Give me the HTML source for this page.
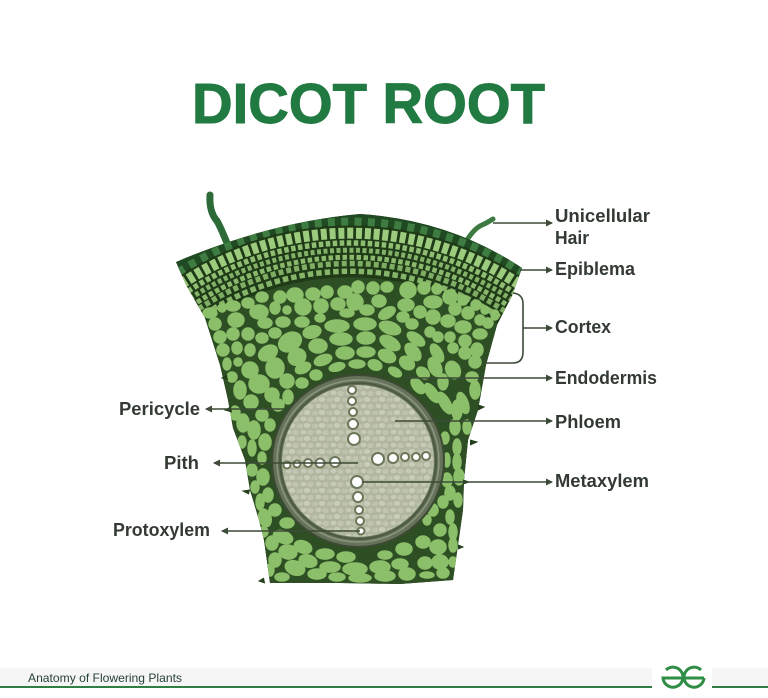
<!DOCTYPE html>
<html><head><meta charset="utf-8"><title>Dicot Root</title>
<style>html,body{margin:0;padding:0;background:#fff;width:768px;height:698px;overflow:hidden}svg{display:block}text{font-family:"Liberation Sans",sans-serif}</style></head>
<body>
<svg width="768" height="698" viewBox="0 0 768 698" xmlns="http://www.w3.org/2000/svg" style="overflow:hidden">
<defs>
<clipPath id="o"><path id="op" d="M176 262 Q270 222 360 214 Q450 220 522 268 L512 296 L497 325 L486 365 L478 410 L468 440 L464 480 L463 510 L458 545 L453 580 L400 584 L340 583 L270 583 L264 540 L259 520 L250 490 L245 460 L233 428 L228 400 L220 365 L205 318 L186 285 Z"/></clipPath>
<pattern id="pt" width="15" height="13" patternUnits="userSpaceOnUse">
<rect width="15" height="13" fill="#b0b69f"/>
<ellipse cx="3.500" cy="3" rx="3" ry="2.300" fill="#c6cab7"/><ellipse cx="10.500" cy="3.500" rx="3.200" ry="2.600" fill="#c0c4b0"/><ellipse cx="7" cy="9.500" rx="3.300" ry="2.500" fill="#c8ccba"/><ellipse cx="13.500" cy="10" rx="2" ry="2.300" fill="#bcc1ac"/><ellipse cx="1" cy="10" rx="1.800" ry="2.200" fill="#c0c4b0"/>
</pattern>
<marker id="a" markerWidth="8" markerHeight="8" refX="6" refY="3.500" orient="auto" markerUnits="userSpaceOnUse"><path d="M0 0L7 3.500L0 7Z" fill="#3c4a38"/></marker>
</defs>
<rect width="768" height="698" fill="#fff"/>
<text x="192" y="123" font-size="57" font-weight="700" fill="#217a41" stroke="#217a41" stroke-width="1" textLength="353" lengthAdjust="spacingAndGlyphs">DICOT ROOT</text>

<path d="M227 243 Q220 226 217 221 Q209 212 210 195" fill="none" stroke="#2c6a38" stroke-width="7" stroke-linecap="round"/>
<path d="M465 243 Q473 230 480 226 Q487 223 493 219" fill="none" stroke="#3c7a42" stroke-width="5" stroke-linecap="round"/>

<use href="#op" fill="#1f3a17"/>
<g clip-path="url(#o)" fill="none">
<path d="M150 370A262 262 0 0 1 550 370V600H150Z" fill="#2e4f24"/>
<path d="M144 294A320 320 0 0 1 556 294" stroke="#1f4a22" stroke-width="12"/>
<path d="M146 296A317 317 0 0 1 554 296" stroke="#3f7c42" stroke-width="8" stroke-dasharray="7 6.300"/>
<path d="M153 305A306 306 0 0 1 547 305" stroke="#9ccb7e" stroke-width="11" stroke-dasharray="6 2.800"/>
<path d="M160 312A296 296 0 0 1 540 312" stroke="#8fbe72" stroke-width="5.500" stroke-dasharray="4.500 2.500"/>
<path d="M164 318A289 289 0 0 1 536 318" stroke="#83b168" stroke-width="5" stroke-dasharray="4 2.500"/>
<path d="M169 323A282 282 0 0 1 531 323" stroke="#8ab86d" stroke-width="5" stroke-dasharray="4.500 2.500"/>
<path d="M173 328A275 275 0 0 1 527 328" stroke="#80ad64" stroke-width="5.500" stroke-dasharray="5 3"/>
<path d="M178 334A267 267 0 0 1 522 334" stroke="#86b56a" stroke-width="5.500" stroke-dasharray="5.500 3"/>
</g>
<g clip-path="url(#o)" fill="#8cbf6a" stroke="#8cbf6a" stroke-width="1.500">
<ellipse cx="295" cy="295" rx="8" ry="7"/><ellipse cx="313" cy="294" rx="7" ry="6"/><ellipse cx="327" cy="292" rx="6" ry="6"/><ellipse cx="345" cy="292" rx="7" ry="6"/><ellipse cx="358" cy="287" rx="6" ry="6"/><ellipse cx="373" cy="288" rx="6" ry="6"/><ellipse cx="387" cy="287" rx="6" ry="5"/><ellipse cx="408" cy="290" rx="8" ry="8"/><ellipse cx="424" cy="288" rx="6" ry="6"/><ellipse cx="437" cy="289" rx="5" ry="5"/><ellipse cx="450" cy="297" rx="7" ry="7"/><ellipse cx="280" cy="297" rx="6" ry="6"/><ellipse cx="262" cy="297" rx="6" ry="5"/><ellipse cx="248" cy="303" rx="6" ry="5"/><ellipse cx="233" cy="306" rx="7" ry="5"/><ellipse cx="210" cy="313" rx="7" ry="5"/><ellipse cx="222" cy="308" rx="4" ry="4"/>
<ellipse cx="259" cy="312" rx="9" ry="7"/><ellipse cx="303" cy="307" rx="8" ry="8"/><ellipse cx="275" cy="308" rx="5" ry="6"/><ellipse cx="287" cy="310" rx="4" ry="4"/><ellipse cx="321" cy="306" rx="7" ry="7"/><ellipse cx="338" cy="304" rx="7" ry="6"/><ellipse cx="355" cy="302" rx="8" ry="8"/><ellipse cx="379" cy="301" rx="7" ry="6"/><ellipse cx="406" cy="305" rx="8" ry="6"/><ellipse cx="433" cy="302" rx="9" ry="6"/><ellipse cx="463" cy="300" rx="5" ry="5"/><ellipse cx="455" cy="309" rx="6" ry="6"/><ellipse cx="476" cy="305" rx="5" ry="5"/><ellipse cx="485" cy="310" rx="4" ry="4"/><ellipse cx="495" cy="315" rx="4" ry="5"/><ellipse cx="420" cy="312" rx="6" ry="6"/><ellipse cx="433" cy="317" rx="7" ry="7"/><ellipse cx="468" cy="313" rx="6" ry="6"/><ellipse cx="448" cy="321" rx="7" ry="6"/><ellipse cx="480" cy="320" rx="5" ry="5"/>
<ellipse cx="236" cy="320" rx="8" ry="7"/><ellipse cx="215" cy="324" rx="6" ry="6"/><ellipse cx="265" cy="323" rx="7" ry="5"/><ellipse cx="283" cy="322" rx="7" ry="5"/><ellipse cx="302" cy="322" rx="7" ry="5"/><ellipse cx="320" cy="318" rx="5" ry="4"/><ellipse cx="347" cy="313" rx="7" ry="4"/><ellipse cx="367" cy="310" rx="7" ry="5"/><ellipse cx="387" cy="313" rx="9" ry="5" transform="rotate(-30 387 313)"/><ellipse cx="337" cy="326" rx="12" ry="6"/><ellipse cx="365" cy="324" rx="11" ry="6"/><ellipse cx="390" cy="328" rx="11" ry="6" transform="rotate(20 390 328)"/><ellipse cx="403" cy="317" rx="6" ry="5"/>
<ellipse cx="220" cy="337" rx="6" ry="6"/><ellipse cx="233" cy="334" rx="6" ry="6"/><ellipse cx="248" cy="334" rx="6" ry="6"/><ellipse cx="275" cy="333" rx="6" ry="5"/><ellipse cx="290" cy="342" rx="12" ry="9" transform="rotate(-30 290 342)"/><ellipse cx="312" cy="332" rx="9" ry="6" transform="rotate(-15 312 332)"/><ellipse cx="318" cy="346" rx="9" ry="7"/><ellipse cx="341" cy="339" rx="11" ry="6"/><ellipse cx="366" cy="338" rx="9" ry="6"/><ellipse cx="390" cy="343" rx="11" ry="6" transform="rotate(30 390 343)"/><ellipse cx="345" cy="353" rx="9" ry="6"/><ellipse cx="366" cy="352" rx="9" ry="5"/><ellipse cx="387" cy="356" rx="9" ry="6" transform="rotate(25 387 356)"/><ellipse cx="323" cy="360" rx="9" ry="5" transform="rotate(-20 323 360)"/><ellipse cx="297" cy="357" rx="9" ry="8" transform="rotate(-30 297 357)"/><ellipse cx="268" cy="353" rx="10" ry="7" transform="rotate(-30 268 353)"/><ellipse cx="250" cy="350" rx="5" ry="6"/><ellipse cx="237" cy="348" rx="5" ry="6"/><ellipse cx="223" cy="350" rx="6" ry="6"/><ellipse cx="262" cy="338" rx="6" ry="5"/>
<ellipse cx="227" cy="364" rx="4" ry="6"/><ellipse cx="238" cy="362" rx="4" ry="4"/><ellipse cx="250" cy="370" rx="8" ry="8" transform="rotate(-20 250 370)"/><ellipse cx="275" cy="368" rx="9" ry="10"/><ellipse cx="303" cy="368" rx="8" ry="5" transform="rotate(-25 303 368)"/><ellipse cx="232" cy="377" rx="5" ry="5"/><ellipse cx="316" cy="375" rx="6" ry="5"/><ellipse cx="287" cy="381" rx="7" ry="7"/><ellipse cx="259" cy="384" rx="10" ry="9"/><ellipse cx="240" cy="390" rx="6" ry="9"/><ellipse cx="302" cy="383" rx="6" ry="5"/><ellipse cx="337" cy="367" rx="8" ry="4" transform="rotate(-15 337 367)"/><ellipse cx="357" cy="364" rx="8" ry="4"/><ellipse cx="375" cy="365" rx="7" ry="5" transform="rotate(20 375 365)"/><ellipse cx="395" cy="372" rx="7" ry="4" transform="rotate(30 395 372)"/><ellipse cx="407" cy="363" rx="8" ry="6" transform="rotate(35 407 363)"/><ellipse cx="423" cy="373" rx="7" ry="5" transform="rotate(40 423 373)"/><ellipse cx="435" cy="367" rx="6" ry="10" transform="rotate(-25 435 367)"/><ellipse cx="453" cy="370" rx="7" ry="9" transform="rotate(-25 453 370)"/><ellipse cx="472" cy="377" rx="6" ry="5"/><ellipse cx="475" cy="362" rx="6" ry="6"/><ellipse cx="465" cy="353" rx="6" ry="6"/><ellipse cx="453" cy="348" rx="5" ry="5"/><ellipse cx="437" cy="353" rx="5" ry="10" transform="rotate(-30 437 353)"/><ellipse cx="413" cy="352" rx="6" ry="10" transform="rotate(-40 413 352)"/><ellipse cx="416" cy="339" rx="10" ry="5" transform="rotate(35 416 339)"/><ellipse cx="438" cy="337" rx="5" ry="5"/><ellipse cx="465" cy="341" rx="6" ry="6"/><ellipse cx="480" cy="334" rx="7" ry="5"/><ellipse cx="488" cy="323" rx="5" ry="5"/><ellipse cx="463" cy="327" rx="8" ry="6"/><ellipse cx="430" cy="332" rx="5" ry="5"/><ellipse cx="450" cy="337" rx="5" ry="5"/><ellipse cx="477" cy="350" rx="6" ry="7"/><ellipse cx="412" cy="324" rx="6" ry="5"/>
<ellipse cx="463" cy="403" rx="5" ry="11" transform="rotate(-20 463 403)"/><ellipse cx="457" cy="410" rx="5" ry="10"/><ellipse cx="445" cy="403" rx="5" ry="12" transform="rotate(-30 445 403)"/><ellipse cx="432" cy="393" rx="5" ry="11" transform="rotate(-35 432 393)"/><ellipse cx="418" cy="386" rx="5" ry="9" transform="rotate(-40 418 386)"/><ellipse cx="443" cy="382" rx="5" ry="8"/><ellipse cx="475" cy="390" rx="5" ry="9"/><ellipse cx="467" cy="427" rx="4" ry="7"/><ellipse cx="455" cy="427" rx="5" ry="8"/><ellipse cx="445" cy="438" rx="4" ry="6"/><ellipse cx="457" cy="447" rx="4" ry="8"/><ellipse cx="447" cy="460" rx="3" ry="7"/><ellipse cx="457" cy="462" rx="4" ry="8"/><ellipse cx="447" cy="480" rx="5" ry="7"/><ellipse cx="459" cy="477" rx="5" ry="8"/><ellipse cx="450" cy="493" rx="5" ry="7"/><ellipse cx="458" cy="500" rx="4" ry="7"/><ellipse cx="443" cy="502" rx="5" ry="6"/><ellipse cx="433" cy="510" rx="5" ry="6"/><ellipse cx="450" cy="517" rx="4" ry="7"/><ellipse cx="440" cy="530" rx="6" ry="6"/><ellipse cx="453" cy="532" rx="4" ry="8"/><ellipse cx="427" cy="520" rx="4" ry="5"/><ellipse cx="423" cy="542" rx="7" ry="6"/><ellipse cx="438" cy="547" rx="8" ry="7"/><ellipse cx="453" cy="545" rx="4" ry="7"/><ellipse cx="440" cy="562" rx="8" ry="7"/><ellipse cx="453" cy="562" rx="4" ry="5"/><ellipse cx="404" cy="549" rx="8" ry="6"/><ellipse cx="385" cy="555" rx="7" ry="4"/><ellipse cx="400" cy="564" rx="8" ry="5"/><ellipse cx="425" cy="563" rx="7" ry="6"/><ellipse cx="380" cy="567" rx="10" ry="6"/><ellipse cx="355" cy="569" rx="12" ry="6"/><ellipse cx="330" cy="567" rx="10" ry="5"/><ellipse cx="346" cy="557" rx="9" ry="5"/><ellipse cx="325" cy="554" rx="9" ry="5"/><ellipse cx="303" cy="547" rx="9" ry="6" transform="rotate(20 303 547)"/><ellipse cx="288" cy="552" rx="9" ry="7" transform="rotate(10 288 552)"/><ellipse cx="308" cy="561" rx="9" ry="6" transform="rotate(15 308 561)"/><ellipse cx="295" cy="568" rx="10" ry="7" transform="rotate(20 295 568)"/><ellipse cx="275" cy="560" rx="6" ry="7"/><ellipse cx="272" cy="543" rx="6" ry="7"/><ellipse cx="265" cy="518" rx="6" ry="9" transform="rotate(-15 265 518)"/><ellipse cx="263" cy="532" rx="5" ry="5"/><ellipse cx="283" cy="537" rx="10" ry="6" transform="rotate(20 283 537)"/><ellipse cx="287" cy="523" rx="7" ry="5"/><ellipse cx="275" cy="510" rx="6" ry="6"/><ellipse cx="260" cy="502" rx="4" ry="8"/><ellipse cx="268" cy="495" rx="5" ry="7"/><ellipse cx="255" cy="487" rx="4" ry="6"/><ellipse cx="263" cy="477" rx="6" ry="8"/><ellipse cx="252" cy="470" rx="5" ry="6"/><ellipse cx="262" cy="458" rx="4" ry="6"/><ellipse cx="252" cy="448" rx="4" ry="8"/><ellipse cx="265" cy="442" rx="6" ry="8"/><ellipse cx="242" cy="442" rx="4" ry="6"/><ellipse cx="254" cy="430" rx="6" ry="9"/><ellipse cx="270" cy="425" rx="5" ry="6"/><ellipse cx="243" cy="423" rx="6" ry="9"/><ellipse cx="235" cy="413" rx="5" ry="7"/><ellipse cx="251" cy="402" rx="7" ry="7"/><ellipse cx="272" cy="395" rx="7" ry="7"/><ellipse cx="278" cy="405" rx="6" ry="6"/><ellipse cx="262" cy="415" rx="6" ry="6"/><ellipse cx="288" cy="397" rx="5" ry="7"/>
<ellipse cx="282" cy="577" rx="7" ry="4"/><ellipse cx="317" cy="574" rx="9" ry="5"/><ellipse cx="337" cy="577" rx="8" ry="4"/><ellipse cx="360" cy="578" rx="11" ry="4"/><ellipse cx="385" cy="576" rx="10" ry="5"/><ellipse cx="407" cy="574" rx="8" ry="6"/><ellipse cx="427" cy="575" rx="7" ry="3"/><ellipse cx="443" cy="573" rx="6" ry="5"/><ellipse cx="270" cy="570" rx="4" ry="6"/>
</g>
<path d="M232 412l-7 -2l6 -3M250 490l-7 1l6 3M478 410l6 -3l-6 -2M470 440l7 2l-7 3M463 480l6 2l-6 2M458 545l5 2l-5 2M264 578l-5 3l6 2M228 380l-6 -2l5 -3" fill="#23401a" stroke="#23401a"/>

<circle cx="358" cy="461" r="86" fill="#66725a" stroke="#3d4a33" stroke-width="2"/>
<circle cx="358" cy="461" r="81" fill="none" stroke="#8b9580" stroke-width="1.500"/>
<circle cx="358" cy="461" r="78" fill="none" stroke="#4d5a42" stroke-width="2"/>
<circle cx="358" cy="461" r="76" fill="url(#pt)"/>
<g fill="#fff" stroke="#6b7658" stroke-width="2">
<circle cx="352" cy="390" r="4"/><circle cx="352" cy="401" r="4"/><circle cx="353" cy="412" r="4"/><circle cx="353" cy="424" r="5"/><circle cx="354" cy="439" r="6"/>
<circle cx="378" cy="459" r="6"/><circle cx="393" cy="458" r="5"/><circle cx="405" cy="457" r="4"/><circle cx="416" cy="457" r="4"/><circle cx="426" cy="456" r="4"/>
<circle cx="335" cy="462" r="5"/><circle cx="320" cy="463" r="4.500"/><circle cx="308" cy="463" r="4"/><circle cx="297" cy="464" r="3.500"/><circle cx="287" cy="465" r="3.500"/>
<circle cx="357" cy="482" r="6"/><circle cx="358" cy="497" r="5"/><circle cx="359" cy="510" r="4"/><circle cx="360" cy="521" r="4"/><circle cx="361" cy="531" r="3.500"/>
</g>

<g fill="none" stroke="#3c4a38" stroke-width="1.600">
<path d="M493 223H552" marker-end="url(#a)"/>
<path d="M520 270H552" marker-end="url(#a)"/>
<path d="M513 293Q523 294 523 304V352Q523 363 513 363H483"/>
<path d="M523 328H552" marker-end="url(#a)"/>
<path d="M403 378H552" marker-end="url(#a)"/>
<path d="M395 421H552" marker-end="url(#a)"/>
<path d="M362 482H552" marker-end="url(#a)"/>
<path d="M285 409H206" marker-end="url(#a)"/>
<path d="M358 463H214" marker-end="url(#a)"/>
<path d="M360 531H222" marker-end="url(#a)"/>
</g>
<g font-size="18" font-weight="700" fill="#333a33">
<text x="555" y="222" textLength="95" lengthAdjust="spacingAndGlyphs">Unicellular</text>
<text x="555" y="244" textLength="34" lengthAdjust="spacingAndGlyphs">Hair</text>
<text x="555" y="275" textLength="80" lengthAdjust="spacingAndGlyphs">Epiblema</text>
<text x="555" y="333" textLength="56" lengthAdjust="spacingAndGlyphs">Cortex</text>
<text x="555" y="384" textLength="102" lengthAdjust="spacingAndGlyphs">Endodermis</text>
<text x="555" y="428" textLength="66" lengthAdjust="spacingAndGlyphs">Phloem</text>
<text x="555" y="487" textLength="94" lengthAdjust="spacingAndGlyphs">Metaxylem</text>
<text x="119" y="415" textLength="81" lengthAdjust="spacingAndGlyphs">Pericycle</text>
<text x="164" y="469" textLength="35" lengthAdjust="spacingAndGlyphs">Pith</text>
<text x="113" y="536" textLength="97" lengthAdjust="spacingAndGlyphs">Protoxylem</text>
</g>

<rect x="0" y="668" width="652" height="18" fill="#f6f6f6"/>
<rect x="0" y="686" width="652" height="2" fill="#2f7f45"/>
<rect x="712" y="668" width="56" height="18" fill="#f6f6f6"/>
<rect x="712" y="686" width="56" height="2" fill="#2f7f45"/>
<text x="28" y="682" font-size="12" fill="#26413a" textLength="154" lengthAdjust="spacingAndGlyphs">Anatomy of Flowering Plants</text>
<g fill="none" stroke="#2f8d46" stroke-width="3">
<path d="M666 670A10 10 0 1 1 663 678H704"/>
<path d="M701 670A10 10 0 1 0 704 678"/>
</g>
</svg>
</body></html>
